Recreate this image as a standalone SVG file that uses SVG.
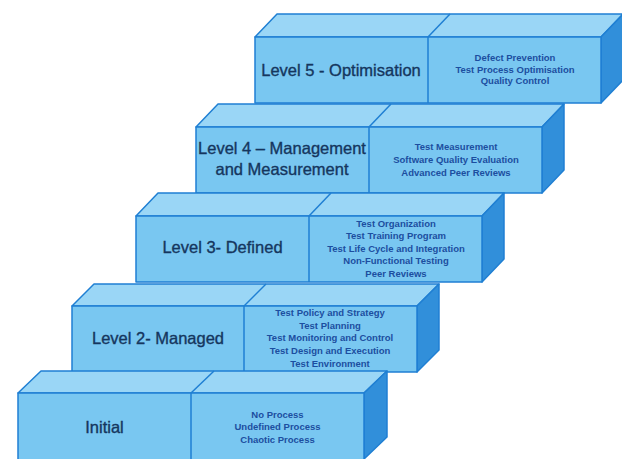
<svg xmlns="http://www.w3.org/2000/svg" width="622" height="459" viewBox="0 0 622 459">
<style>
.front{fill:#79c7f1;stroke:#1f7fd3;stroke-width:1.5;stroke-linejoin:round}
.top{fill:#9ad6f6;stroke:#1f7fd3;stroke-width:1.5;stroke-linejoin:round}
.side{fill:#318fda;stroke:#1f7fd3;stroke-width:1.5;stroke-linejoin:round}
.title{font-family:"Liberation Sans",Arial,sans-serif;font-size:16.5px;fill:#15365e;stroke:#15365e;stroke-width:0.35;text-anchor:middle}
.list{font-family:"Liberation Sans",Arial,sans-serif;font-size:9.5px;font-weight:bold;fill:#1c4ea0;text-anchor:middle}
</style>
<rect width="622" height="459" fill="#ffffff"/>

<g id="level5">
<polygon class="top" points="255,37 277,14 623,14 601,37"/>
<polygon class="side" points="601,37 623,14 623,80 601,103"/>
<rect class="front" x="255" y="37" width="346" height="66"/>
<line class="front" x1="428" y1="37" x2="428" y2="103"/>
<line class="front" x1="428" y1="37" x2="450" y2="14"/>
<text class="title" x="341" y="76">Level 5 - Optimisation</text>
<text class="list" x="515" y="60.7">Defect Prevention</text>
<text class="list" x="515" y="72.5">Test Process Optimisation</text>
<text class="list" x="515" y="84.3">Quality Control</text>
</g>

<g id="level4">
<polygon class="top" points="196,127 218,104 564,104 542,127"/>
<polygon class="side" points="542,127 564,104 564,170 542,193"/>
<rect class="front" x="196" y="127" width="346" height="66"/>
<line class="front" x1="369" y1="127" x2="369" y2="193"/>
<line class="front" x1="369" y1="127" x2="391" y2="104"/>
<text class="title" x="282" y="154">Level 4 – Management</text>
<text class="title" x="282" y="175">and Measurement</text>
<text class="list" x="456" y="150.1">Test Measurement</text>
<text class="list" x="456" y="162.7">Software Quality Evaluation</text>
<text class="list" x="456" y="175.5">Advanced Peer Reviews</text>
</g>

<g id="level3">
<polygon class="top" points="136,216 158,193 504,193 482,216"/>
<polygon class="side" points="482,216 504,193 504,259 482,282"/>
<rect class="front" x="136" y="216" width="346" height="66"/>
<line class="front" x1="309" y1="216" x2="309" y2="282"/>
<line class="front" x1="309" y1="216" x2="331" y2="193"/>
<text class="title" x="222.5" y="253">Level 3- Defined</text>
<text class="list" x="396" y="226.7">Test Organization</text>
<text class="list" x="396" y="239.3">Test Training Program</text>
<text class="list" x="396" y="251.8">Test Life Cycle and Integration</text>
<text class="list" x="396" y="264.4">Non-Functional Testing</text>
<text class="list" x="396" y="276.8">Peer Reviews</text>
</g>

<g id="level2">
<polygon class="top" points="72,306 94,284 439,284 417,306"/>
<polygon class="side" points="417,306 439,284 439,350 417,372"/>
<rect class="front" x="72" y="306" width="345" height="66"/>
<line class="front" x1="244" y1="306" x2="244" y2="372"/>
<line class="front" x1="244" y1="306" x2="266" y2="284"/>
<text class="title" x="158" y="344">Level 2- Managed</text>
<text class="list" x="330" y="316.1">Test Policy and Strategy</text>
<text class="list" x="330" y="328.6">Test Planning</text>
<text class="list" x="330" y="341.1">Test Monitoring and Control</text>
<text class="list" x="330" y="353.7">Test Design and Execution</text>
<text class="list" x="330" y="366.5">Test Environment</text>
</g>

<g id="level1">
<polygon class="top" points="18,393 41,371 387,371 364,393"/>
<polygon class="side" points="364,393 387,371 387,437 364,459"/>
<rect class="front" x="18" y="393" width="346" height="70"/>
<line class="front" x1="191" y1="393" x2="191" y2="462"/>
<line class="front" x1="191" y1="393" x2="214" y2="371"/>
<text class="title" x="104.5" y="433">Initial</text>
<text class="list" x="277.5" y="417.7">No Process</text>
<text class="list" x="277.5" y="430.4">Undefined Process</text>
<text class="list" x="277.5" y="443.1">Chaotic Process</text>
</g>
</svg>
